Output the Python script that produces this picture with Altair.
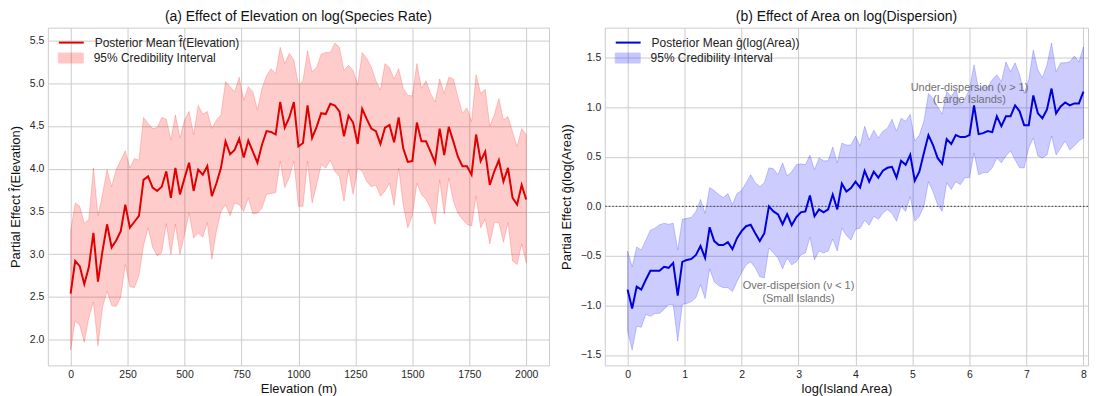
import altair as alt
import pandas as pd

# ---------------- data: panel (a) ----------------
elev_x = list(range(0, 2001, 20))
elev_mean = [
    2.54, 2.92, 2.86, 2.65, 2.85, 3.25, 2.68, 3.04, 3.35, 3.08,
    3.16, 3.27, 3.58, 3.31, 3.38, 3.45, 3.87, 3.91, 3.78, 3.74,
    3.79, 3.97, 3.66, 4.01, 3.70, 3.89, 4.07, 3.74, 3.99, 3.93,
    4.03, 3.68, 3.83, 4.01, 4.32, 4.17, 4.22, 4.35, 4.13, 4.33,
    4.20, 4.07, 4.28, 4.44, 4.43, 4.40, 4.78, 4.48, 4.60, 4.78,
    4.26, 4.30, 4.74, 4.36, 4.49, 4.65, 4.64, 4.76, 4.74, 4.67,
    4.38, 4.62, 4.54, 4.29, 4.70, 4.58, 4.47, 4.44, 4.29, 4.48,
    4.51, 4.31, 4.60, 4.24, 4.08, 4.09, 4.54, 4.32, 4.32, 4.20,
    4.07, 4.47, 4.16, 4.49, 4.32, 4.14, 4.03, 4.03, 3.93, 4.40,
    4.09, 4.20, 3.81, 3.97, 4.10, 3.85, 4.01, 3.66, 3.58, 3.81,
    3.64,
]
elev_upper = [
    3.27, 3.60, 3.56, 3.36, 3.41, 4.01, 3.45, 3.70, 3.99, 3.79,
    3.99, 4.10, 4.21, 4.01, 4.12, 4.10, 4.60, 4.53, 4.47, 4.48,
    4.60, 4.58, 4.34, 4.63, 4.36, 4.57, 4.67, 4.40, 4.74, 4.64,
    4.67, 4.47, 4.57, 4.63, 5.02, 4.96, 4.90, 5.07, 4.80, 4.96,
    4.90, 4.69, 4.94, 5.09, 5.17, 5.11, 5.42, 5.23, 5.35, 5.27,
    4.98, 5.03, 5.38, 5.13, 5.19, 5.34, 5.36, 5.36, 5.47, 5.42,
    5.15, 5.21, 5.15, 4.98, 5.36, 5.29, 5.19, 5.03, 4.92, 5.23,
    5.18, 5.05, 5.17, 4.94, 4.86, 4.85, 5.23, 4.94, 5.03, 4.88,
    4.78, 5.05, 4.88, 5.07, 5.05, 4.84, 4.65, 4.71, 4.55, 5.10,
    4.88, 4.93, 4.50, 4.63, 4.82, 4.57, 4.61, 4.43, 4.26, 4.47,
    4.40,
]
elev_lower = [
    1.88, 2.22, 2.17, 1.97, 2.26, 2.44, 1.93, 2.38, 2.57, 2.40,
    2.39, 2.50, 2.88, 2.62, 2.61, 2.75, 3.10, 3.31, 3.08, 2.98,
    3.02, 3.36, 3.00, 3.35, 3.00, 3.23, 3.48, 3.19, 3.25, 3.20,
    3.37, 2.94, 3.27, 3.50, 3.58, 3.45, 3.60, 3.58, 3.50, 3.66,
    3.47, 3.48, 3.54, 3.70, 3.71, 3.72, 4.09, 3.78, 3.90, 4.09,
    3.56, 3.56, 4.09, 3.60, 3.81, 4.05, 4.01, 4.10, 3.97, 3.91,
    3.62, 3.99, 3.70, 4.01, 3.97, 3.85, 3.79, 3.81, 3.68, 3.74,
    3.83, 3.57, 4.01, 3.58, 3.31, 3.45, 3.83, 3.70, 3.64, 3.54,
    3.35, 3.87, 3.47, 3.89, 3.62, 3.48, 3.41, 3.35, 3.33, 3.68,
    3.31, 3.41, 3.12, 3.37, 3.37, 3.14, 3.37, 2.92, 2.88, 3.12,
    2.90,
]

# ---------------- data: panel (b) ----------------
area_x = [round(i * 0.08, 2) for i in range(101)]
area_mean = [
    -0.84, -1.03, -0.81, -0.84, -0.74, -0.65, -0.65, -0.65, -0.61, -0.62,
    -0.57, -0.90, -0.56, -0.54, -0.53, -0.49, -0.40, -0.52, -0.21, -0.35,
    -0.39, -0.39, -0.36, -0.43, -0.32, -0.25, -0.20, -0.185, -0.27, -0.35,
    -0.27, 0.00, -0.05, -0.08, -0.18, -0.08, -0.19, -0.11, -0.06, -0.05,
    0.11, -0.10, -0.03, -0.06, -0.03, 0.12, -0.03, 0.23, 0.15, 0.185,
    0.25, 0.19, 0.36, 0.25, 0.35, 0.29, 0.36, 0.39, 0.40, 0.29,
    0.46, 0.42, 0.52, 0.26, 0.35, 0.54, 0.72, 0.62, 0.49, 0.43,
    0.68, 0.63, 0.72, 0.70, 0.70, 0.72, 1.02, 0.73, 0.74, 0.76,
    0.75, 0.91, 0.81, 0.91, 0.91, 1.02, 0.96, 0.82, 0.82, 1.12,
    0.94, 0.89, 0.98, 1.19, 0.94, 1.01, 1.05, 1.02, 1.04, 1.04,
    1.16,
]
area_upper = [
    -0.45, -0.61, -0.41, -0.44, -0.34, -0.24, -0.22, -0.185, -0.17, -0.18,
    -0.17, -0.44, -0.13, -0.12, -0.11, -0.05, 0.07, -0.07, 0.19, 0.16,
    0.12, 0.09, 0.13, 0.02, 0.13, 0.16, 0.24, 0.32, 0.24, 0.20,
    0.24, 0.39, 0.38, 0.32, 0.44, 0.31, 0.35, 0.42, 0.43, 0.42,
    0.52, 0.37, 0.49, 0.46, 0.46, 0.60, 0.44, 0.64, 0.62, 0.62,
    0.71, 0.61, 0.81, 0.67, 0.77, 0.69, 0.76, 0.79, 0.88, 0.76,
    0.89, 0.86, 0.93, 0.66, 0.72, 0.86, 1.14, 1.09, 1.01, 0.93,
    1.16, 1.11, 1.18, 1.03, 1.09, 1.18, 1.43, 1.18, 1.21, 1.20,
    1.28, 1.33, 1.26, 1.46, 1.36, 1.45, 1.33, 1.14, 1.28, 1.58,
    1.38, 1.30, 1.43, 1.65, 1.36, 1.45, 1.45, 1.46, 1.52, 1.46,
    1.61,
]
area_lower = [
    -1.26, -1.45, -1.21, -1.22, -1.09, -1.11, -1.08, -1.08, -1.04, -0.99,
    -0.99, -1.36, -0.99, -0.98, -0.96, -0.92, -0.79, -0.93, -0.63, -0.76,
    -0.80, -0.82, -0.82, -0.86, -0.76, -0.67, -0.59, -0.56, -0.62, -0.71,
    -0.72, -0.42, -0.47, -0.52, -0.63, -0.52, -0.59, -0.56, -0.49, -0.47,
    -0.31, -0.54, -0.45, -0.47, -0.45, -0.33, -0.45, -0.22, -0.29, -0.34,
    -0.23, -0.22, -0.14, -0.19, -0.10, -0.13, -0.07, -0.03, -0.07, -0.15,
    0.00, -0.05, 0.10, -0.15, -0.10, 0.00, 0.25, 0.15, 0.02, -0.05,
    0.24, 0.17, 0.25, 0.22, 0.29, 0.29, 0.54, 0.32, 0.34, 0.34,
    0.39, 0.49, 0.44, 0.51, 0.56, 0.47, 0.39, 0.39, 0.59, 0.69,
    0.51, 0.49, 0.52, 0.71, 0.52, 0.59, 0.66, 0.57, 0.61, 0.66,
    0.69,
]

elev_ticks = [0, 250, 500, 750, 1000, 1250, 1500, 1750, 2000]
elev_yticks = [2.0, 2.5, 3.0, 3.5, 4.0, 4.5, 5.0, 5.5]
area_ticks = [0, 1, 2, 3, 4, 5, 6, 7, 8]
area_yticks = [-1.5, -1.0, -0.5, 0.0, 0.5, 1.0, 1.5]

ref_line = [0.0]
notes_x = [6.0, 3.0]
notes_y = [1.2, -0.8]
notes_text = ["Under-dispersion (\u03bd > 1)\n(Large Islands)",
              "Over-dispersion (\u03bd < 1)\n(Small Islands)"]

TITLE_A = "(a) Effect of Elevation on log(Species Rate)"
TITLE_B = "(b) Effect of Area on log(Dispersion)"
MEAN_A = "Posterior Mean f\u0302(Elevation)"
MEAN_B = "Posterior Mean \u011d(log(Area))"
CI = "95% Credibility Interval"

FONT = "Liberation Sans"
RED_LINE = "#e00000"
RED_BAND = "#ff0000"
BLUE_LINE = "#0000dd"
BLUE_BAND = "#0000ff"

df_a = pd.DataFrame({"x": elev_x, "mean": elev_mean, "lo": elev_lower, "hi": elev_upper,
                     "s": MEAN_A, "b": CI})
df_b = pd.DataFrame({"x": area_x, "mean": area_mean, "lo": area_lower, "hi": area_upper,
                     "s": MEAN_B, "b": CI})
df_ref = pd.DataFrame({"y": ref_line})
df_notes = pd.DataFrame({"x": notes_x, "y": notes_y, "t": notes_text})

RECT = "M-1,-0.4H1V0.4H-1Z"
LEG_FS = 12


def line_legend(y):
    return alt.Legend(title=None, orient="none", legendX=10, legendY=y, padding=0,
                      symbolType="stroke", symbolSize=625, symbolStrokeWidth=2,
                      labelFontSize=LEG_FS, labelFont=FONT, labelColor="#222222",
                      labelOffset=10, labelLimit=400)


def band_legend(y, color):
    return alt.Legend(title=None, orient="none", legendX=10, legendY=y, padding=0,
                      symbolType=RECT, symbolSize=625, symbolOpacity=0.22,
                      symbolStrokeColor=color, symbolStrokeWidth=1,
                      labelFontSize=LEG_FS, labelFont=FONT, labelColor="#222222",
                      labelOffset=10, labelLimit=400)


def panel(df, xdom, xticks, xtitle, ydom, yticks, ytitle, line_color, band_color, mean_label):
    xenc = alt.X("x:Q", scale=alt.Scale(domain=xdom, nice=False, zero=False),
                 axis=alt.Axis(values=xticks, title=xtitle, format="d"))
    yscale = alt.Scale(domain=ydom, nice=False, zero=False)
    yaxis = alt.Axis(values=yticks, title=ytitle, format=".1f")
    base = alt.Chart(df)
    band = base.mark_area(fillOpacity=0.2, stroke=band_color, strokeOpacity=0.2,
                          strokeWidth=1, clip=True).encode(
        x=xenc,
        y=alt.Y("lo:Q", scale=yscale, axis=yaxis),
        y2="hi:Q",
        fill=alt.Fill("b:N", scale=alt.Scale(domain=[CI], range=[band_color]),
                      legend=band_legend(17.5, band_color)),
    )
    line = base.mark_line(strokeWidth=2, clip=True).encode(
        x=xenc,
        y=alt.Y("mean:Q", scale=yscale, axis=yaxis),
        stroke=alt.Stroke("s:N", scale=alt.Scale(domain=[mean_label], range=[line_color]),
                          legend=line_legend(1.5)),
    )
    return band, line


band_a, line_a = panel(df_a, [-100, 2100], elev_ticks, "Elevation (m)",
                       [1.70, 5.65], elev_yticks, "Partial Effect f\u0302(Elevation)",
                       RED_LINE, RED_BAND, MEAN_A)
chart_a = alt.layer(band_a, line_a).properties(
    width=503, height=339, title=TITLE_A)

band_b, line_b = panel(df_b, [-0.4, 8.08], area_ticks, "log(Island Area)",
                       [-1.605, 1.805], area_yticks, "Partial Effect \u011d(log(Area))",
                       BLUE_LINE, BLUE_BAND, MEAN_B)
zero = alt.Chart(df_ref).mark_rule(color="#555555", strokeWidth=1.2,
                                   strokeDash=[1.5, 2]).encode(y="y:Q")
notes = alt.Chart(df_notes).mark_text(align="center", baseline="middle", lineBreak="\n",
                                      fontSize=11, font=FONT, color="#707070",
                                      lineHeight=13).encode(x="x:Q", y="y:Q", text="t:N")
chart_b = alt.layer(band_b, zero, line_b, notes).properties(
    width=485, height=339, title=TITLE_B)

chart = alt.hconcat(chart_a, chart_b, spacing=9).resolve_scale(
    fill="independent", stroke="independent"
).resolve_legend(fill="independent", stroke="independent").properties(
    padding=0
).configure_view(
    stroke="#cccccc", strokeWidth=1
).configure_axis(
    grid=True, gridColor="#cccccc", gridWidth=1, domain=False, ticks=False,
    labelFont=FONT, labelFontSize=10.5, labelColor="#262626", labelPadding=4,
    titleFont=FONT, titleFontSize=13, titleFontWeight="normal", titleColor="#111111",
).configure_axisY(titlePadding=7).configure_axisX(titlePadding=3).configure_title(
    font=FONT, fontSize=14, fontWeight="normal", color="#111111", offset=4, anchor="middle"
)

chart.save("out.html", embed_options={"renderer": "svg", "actions": False})
